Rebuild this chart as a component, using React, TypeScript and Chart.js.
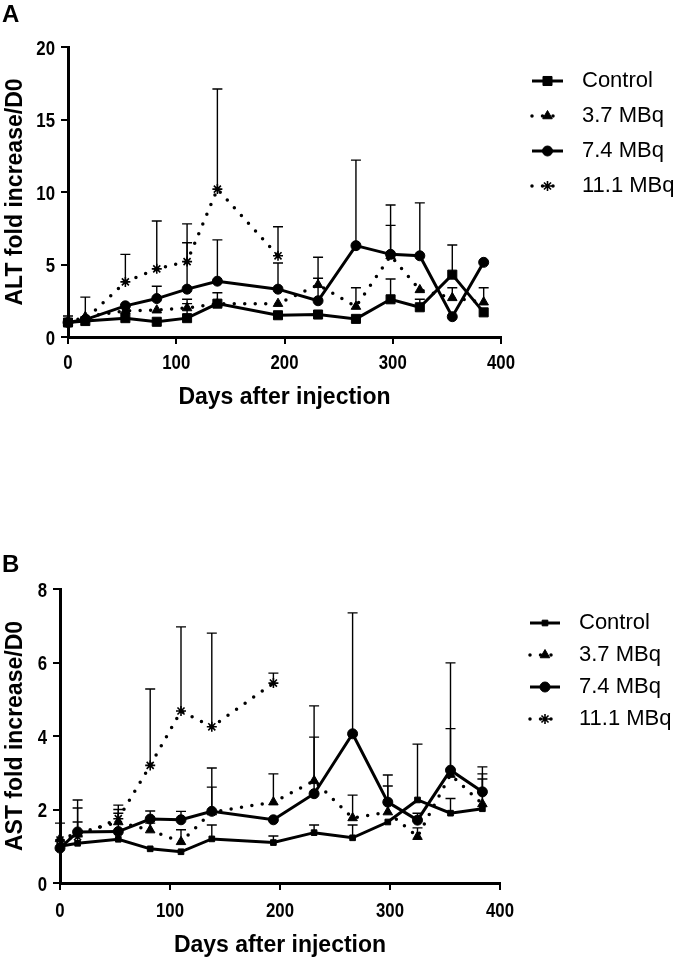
import React, { useEffect, useRef } from "react";
import { Chart, registerables } from "chart.js";
import { drawPoint } from "chart.js/helpers";
Chart.register(...registerables);

// ---------- data ----------
const DAYS = [0, 16, 53, 82, 110, 138, 194, 231, 266, 298, 325, 355, 384];
const SERIES_NAMES = ["Control", "3.7 MBq", "7.4 MBq", "11.1 MBq"];
const X_TICKS = [0, 100, 200, 300, 400];
const Y_TICKS_A = [0, 5, 10, 15, 20];
const Y_TICKS_B = [0, 2, 4, 6, 8];

// Panel A – ALT
const ALT_CONTROL = [1.0, 1.1, 1.3, 1.05, 1.3, 2.3, 1.5, 1.55, 1.25, 2.6, 2.05, 4.3, 1.7];
const ALT_CONTROL_SD = [0.45, 0, 0, 0, 1.0, 0.75, 0, 0, 0, 1.4, 0.55, 2.05, 0];
const ALT_37 = [1.0, 1.4, 1.8, 1.85, 2.0, 2.3, 2.3, 3.6, 2.1, 5.6, 3.25, 2.7, 2.4];
const ALT_37_SD = [0, 1.35, 0, 0, 0.6, 0, 0, 1.9, 1.3, 2.1, 0, 0.7, 1.0];
const ALT_74 = [1.0, 1.2, 2.15, 2.65, 3.3, 3.85, 3.3, 2.5, 6.3, 5.7, 5.6, 1.4, 5.15];
const ALT_74_SD = [0, 0, 0, 0.85, 3.2, 2.85, 1.8, 1.55, 5.9, 3.4, 3.65, 0, 0];
const ALT_111 = [1.0, 1.2, 3.8, 4.7, 5.2, 10.2, 5.6];
const ALT_111_SD = [0, 0, 1.9, 3.3, 2.6, 6.9, 2.0];

// Panel B – AST
const AST_CONTROL = [1.0, 1.08, 1.19, 0.93, 0.85, 1.2, 1.1, 1.37, 1.23, 1.66, 2.26, 1.9, 2.02];
const AST_CONTROL_SD = [0, 0, 0, 0, 0, 0.38, 0.18, 0.21, 0.35, 0, 1.52, 0.4, 0.81];
const AST_37 = [1.2, 1.35, 1.66, 1.44, 1.12, 1.93, 2.2, 2.78, 1.77, 1.93, 1.26, 2.95, 2.15];
const AST_37_SD = [0.43, 0.69, 0.34, 0.19, 0.33, 0.68, 0.77, 2.04, 0.62, 0.71, 0.24, 1.25, 0.82];
const AST_74 = [0.95, 1.39, 1.4, 1.74, 1.72, 1.95, 1.72, 2.43, 4.06, 2.2, 1.71, 3.07, 2.48];
const AST_74_SD = [0, 0.87, 0.72, 0.22, 0.23, 1.18, 0, 1.54, 3.29, 0.74, 0.19, 2.92, 0.68];
const AST_111 = [1.17, 1.26, 1.75, 3.2, 4.68, 4.25, 5.44];
const AST_111_SD = [0, 0.4, 0.15, 2.08, 2.29, 2.55, 0.27];

// ---------- styling ----------
const SANS = "'Liberation Sans', Arial, sans-serif";

const toPts = (vals: number[]) => vals.map((v, i) => ({ x: DAYS[i], y: v }));

const errorBarPlugin = {
  id: "errorBars",
  beforeDatasetsDraw(chart: any) {
    const ctx = chart.ctx;
    const xs = chart.scales.x;
    const ys = chart.scales.y;
    chart.data.datasets.forEach((ds: any) => {
      const err = ds.errUp;
      if (!err) return;
      ctx.save();
      ctx.strokeStyle = "#000";
      ctx.lineWidth = 1.4;
      ds.data.forEach((p: any, j: number) => {
        const e = err[j];
        if (!e) return;
        const x = xs.getPixelForValue(p.x);
        const y0 = ys.getPixelForValue(p.y);
        const y1 = ys.getPixelForValue(p.y + e);
        ctx.beginPath();
        ctx.moveTo(x, y0);
        ctx.lineTo(x, y1);
        ctx.moveTo(x - 5, y1);
        ctx.lineTo(x + 5, y1);
        ctx.stroke();
      });
      ctx.restore();
    });
  },
};

// condensed bold tick labels (drawn as text, horizontally squeezed)
const narrowTicksPlugin = {
  id: "narrowTicks",
  afterDraw(chart: any, _args: any, opts: any) {
    const ctx = chart.ctx;
    const xs = chart.scales.x;
    const ys = chart.scales.y;
    const squeeze = opts.squeeze;
    ctx.save();
    ctx.fillStyle = "#000";
    ctx.font = `bold ${opts.size}px ${SANS}`;
    ctx.textBaseline = "alphabetic";
    xs.ticks.forEach((t: any) => {
      const x = xs.getPixelForValue(t.value);
      ctx.save();
      ctx.translate(x, chart.chartArea.bottom + opts.xOffset);
      ctx.scale(squeeze, 1);
      ctx.textAlign = "center";
      ctx.fillText(String(t.value), 0, 0);
      ctx.restore();
    });
    ys.ticks.forEach((t: any) => {
      const y = ys.getPixelForValue(t.value);
      ctx.save();
      ctx.translate(chart.chartArea.left - opts.yOffset, y + opts.size * 0.36);
      ctx.scale(squeeze, 1);
      ctx.textAlign = "right";
      ctx.fillText(String(t.value), 0, 0);
      ctx.restore();
    });
    ctx.restore();
  },
};

const sideLegendPlugin = {
  id: "sideLegend",
  afterDraw(chart: any, _args: any, opts: any) {
    const ctx = chart.ctx;
    const { x0, x1, textX, y0, dy, fontSize } = opts;
    chart.data.datasets.forEach((ds: any, i: number) => {
      const y = y0 + i * dy;
      ctx.save();
      ctx.strokeStyle = "#000";
      ctx.fillStyle = "#000";
      ctx.lineWidth = ds.borderWidth;
      ctx.lineCap = ds.borderCapStyle || "butt";
      ctx.setLineDash(ds.borderDash || []);
      ctx.beginPath();
      ctx.moveTo(x0, y);
      ctx.lineTo(x1, y);
      ctx.stroke();
      ctx.setLineDash([]);
      ctx.lineCap = "butt";
      ctx.lineWidth = ds.pointBorderWidth;
      drawPoint(
        ctx,
        { pointStyle: ds.pointStyle, rotation: 0, radius: ds.pointRadius, borderWidth: ds.pointBorderWidth },
        (x0 + x1) / 2,
        y
      );
      ctx.font = `${fontSize}px ${SANS}`;
      ctx.textBaseline = "middle";
      ctx.textAlign = "left";
      ctx.fillText(ds.label, textX, y);
      ctx.restore();
    });
  },
};

type PanelCfg = {
  width: number;
  height: number;
  top: number;
  yTitle: string;
  yMax: number;
  yTicks: number[];
  series: { vals: number[]; sd: number[] }[];
  small: boolean;
  pad: { top: number; right: number };
  yAxisWidth: number;
  xAxisHeight: number;
  xTitlePadBottom: number;
  legend: any;
  tickLabels: any;
};

function makeDatasets(cfg: PanelCfg) {
  const [c, a, b, d] = cfg.series;
  const base = {
    borderColor: "#000",
    backgroundColor: "#000",
    pointBackgroundColor: "#000",
    pointBorderColor: "#000",
    tension: 0,
    fill: false,
    clip: false as any,
  };
  return [
    {
      ...base,
      label: SERIES_NAMES[0],
      data: toPts(c.vals),
      errUp: c.sd,
      borderWidth: 3,
      pointStyle: "rect",
      pointRadius: cfg.small ? 4 : 6.4,
      pointBorderWidth: 1,
    },
    {
      ...base,
      label: SERIES_NAMES[1],
      data: toPts(a.vals),
      errUp: a.sd,
      borderWidth: 3.5,
      borderDash: [0, 10.5],
      borderCapStyle: "round",
      pointStyle: "triangle",
      pointRadius: 5.5,
      pointBorderWidth: 1,
    },
    {
      ...base,
      label: SERIES_NAMES[2],
      data: toPts(b.vals),
      errUp: b.sd,
      borderWidth: 3,
      pointStyle: "circle",
      pointRadius: 5,
      pointBorderWidth: 1,
    },
    {
      ...base,
      label: SERIES_NAMES[3],
      data: toPts(d.vals),
      errUp: d.sd,
      borderWidth: 3.5,
      borderDash: [0, 10.5],
      borderCapStyle: "round",
      pointStyle: "star",
      pointRadius: 5,
      pointBorderWidth: 1.6,
    },
  ];
}

function Panel({ cfg }: { cfg: PanelCfg }) {
  const ref = useRef<HTMLCanvasElement | null>(null);
  useEffect(() => {
    if (!ref.current) return;
    const chart = new Chart(ref.current, {
      type: "line",
      data: { datasets: makeDatasets(cfg) as any },
      options: {
        animation: false,
        responsive: false,
        layout: { padding: { top: cfg.pad.top, right: cfg.pad.right, left: 0, bottom: 0 } },
        plugins: {
          legend: { display: false },
          tooltip: { enabled: false },
          sideLegend: cfg.legend,
          narrowTicks: cfg.tickLabels,
        } as any,
        scales: {
          x: {
            type: "linear",
            min: 0,
            max: 400,
            afterBuildTicks: (s: any) => {
              s.ticks = X_TICKS.map((v) => ({ value: v }));
            },
            afterFit: (s: any) => {
              s.height = cfg.xAxisHeight;
            },
            border: { display: true, color: "#000", width: 3 },
            grid: { display: true, drawOnChartArea: false, drawTicks: true, tickLength: 7, color: "#000", lineWidth: 2 },
            ticks: { display: false },
            title: {
              display: true,
              text: "Days after injection",
              color: "#000",
              font: { family: SANS, weight: "bold", size: 23 },
              padding: { top: 0, bottom: cfg.xTitlePadBottom },
            },
          },
          y: {
            type: "linear",
            min: 0,
            max: cfg.yMax,
            afterBuildTicks: (s: any) => {
              s.ticks = cfg.yTicks.map((v) => ({ value: v }));
            },
            afterFit: (s: any) => {
              s.width = cfg.yAxisWidth;
            },
            border: { display: true, color: "#000", width: 3 },
            grid: { display: true, drawOnChartArea: false, drawTicks: true, tickLength: 7, color: "#000", lineWidth: 2 },
            ticks: { display: false },
            title: {
              display: true,
              text: cfg.yTitle,
              color: "#000",
              font: { family: SANS, weight: "bold", size: 23 },
              padding: { top: 2, bottom: 0 },
            },
          },
        },
      } as any,
      plugins: [errorBarPlugin, narrowTicksPlugin, sideLegendPlugin],
    });
    return () => chart.destroy();
  }, []);
  return (
    <div style={{ position: "absolute", left: 0, top: cfg.top, width: cfg.width, height: cfg.height }}>
      <canvas ref={ref} width={cfg.width} height={cfg.height} style={{ display: "block" }} />
    </div>
  );
}

const PANEL_A: PanelCfg = {
  width: 682,
  height: 440,
  top: 0,
  yTitle: "ALT fold increase/D0",
  yMax: 20,
  yTicks: Y_TICKS_A,
  series: [
    { vals: ALT_CONTROL, sd: ALT_CONTROL_SD },
    { vals: ALT_37, sd: ALT_37_SD },
    { vals: ALT_74, sd: ALT_74_SD },
    { vals: ALT_111, sd: ALT_111_SD },
  ],
  small: false,
  pad: { top: 47, right: 181 },
  yAxisWidth: 68,
  xAxisHeight: 103,
  xTitlePadBottom: 29,
  legend: { x0: 532, x1: 563, textX: 582, y0: 81, dy: 35, fontSize: 22 },
  tickLabels: { size: 21, squeeze: 0.8, xOffset: 32, yOffset: 13 },
};

const PANEL_B: PanelCfg = {
  width: 682,
  height: 520,
  top: 440,
  yTitle: "AST fold increase/D0",
  yMax: 8,
  yTicks: Y_TICKS_B,
  series: [
    { vals: AST_CONTROL, sd: AST_CONTROL_SD },
    { vals: AST_37, sd: AST_37_SD },
    { vals: AST_74, sd: AST_74_SD },
    { vals: AST_111, sd: AST_111_SD },
  ],
  small: true,
  pad: { top: 149, right: 182 },
  yAxisWidth: 60,
  xAxisHeight: 77,
  xTitlePadBottom: 1,
  legend: { x0: 530, x1: 560, textX: 579, y0: 183, dy: 32, fontSize: 22 },
  tickLabels: { size: 21, squeeze: 0.8, xOffset: 34, yOffset: 13 },
};

const letterStyle: React.CSSProperties = {
  position: "absolute",
  left: 2,
  fontFamily: SANS,
  fontWeight: "bold",
  fontSize: 24,
  lineHeight: "24px",
  color: "#000",
};

export default function App() {
  return (
    <div style={{ position: "absolute", left: 0, top: 0, width: 682, height: 960, background: "#fff" }}>
      <Panel cfg={PANEL_A} />
      <Panel cfg={PANEL_B} />
      <div style={{ ...letterStyle, top: 2 }}>A</div>
      <div style={{ ...letterStyle, top: 552 }}>B</div>
    </div>
  );
}
